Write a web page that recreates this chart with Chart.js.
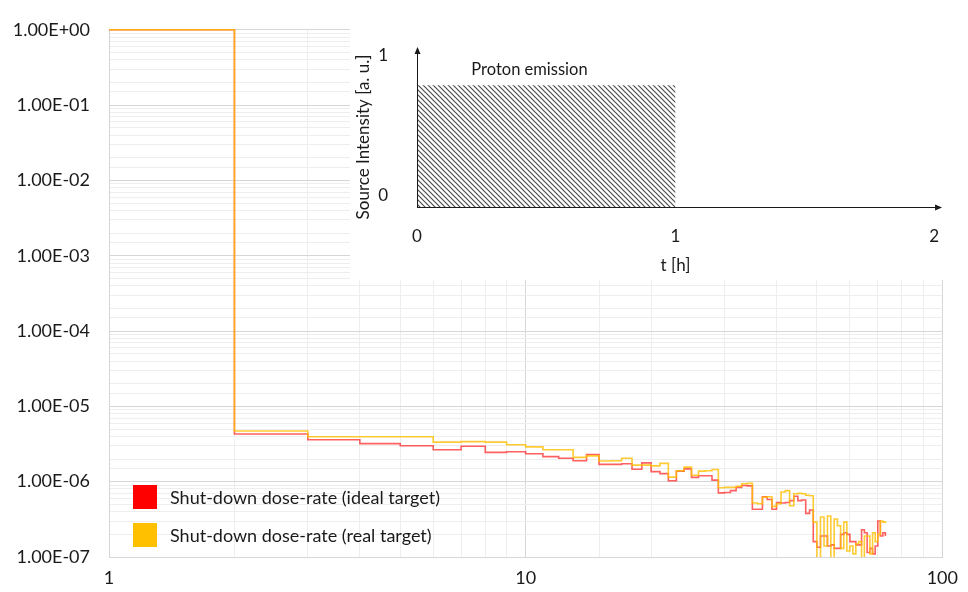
<!DOCTYPE html>
<html lang="en">
<head>
<meta charset="UTF-8">
<title>Shut-down dose-rate</title>
<script src="https://cdn.jsdelivr.net/npm/chart.js"></script>
<style>
  body { margin: 0; background: #fff; }
  #wrap { position: relative; width: 968px; height: 592px; font-family: Lato, "Open Sans", sans-serif; color: #1a1a1a; }
  #inset { position: absolute; left: 350px; top: 27px; }
  .key { position: absolute; left: 133px; width: 24px; height: 24px; }
  .keyText { position: absolute; left: 170px; font-size: 18px; line-height: 22px; }
</style>
</head>
<body>
<div id="wrap">
  <canvas id="main" width="968" height="592"></canvas>
  <canvas id="inset" width="600" height="253"></canvas>
  <div class="key" style="top:485px;background:#ff0000"></div>
  <div class="keyText" style="top:486px">Shut-down dose-rate (ideal target)</div>
  <div class="key" style="top:523px;background:#ffc000"></div>
  <div class="keyText" style="top:524px">Shut-down dose-rate (real target)</div>
</div>
<script>
// time after start [h], one value per hour bin
const hours = [
  1, 2, 3, 4, 5, 6, 7, 8, 9, 10,
  11, 12, 13, 14, 15, 16, 17, 18, 19, 20,
  21, 22, 23, 24, 25, 26, 27, 28, 29, 30,
  31, 32, 33, 34, 35, 36, 37, 38, 39, 40,
  41, 42, 43, 44, 45, 46, 47, 48, 49, 50,
  51, 52, 53, 54, 55, 56, 57, 58, 59, 60,
  61, 62, 63, 64, 65, 66, 67, 68, 69, 70,
  71, 72, 73
];
const idealTarget = [
  1, 4.3e-6, 3.6e-6, 3.2e-6, 3.0e-6, 2.65e-6, 2.95e-6, 2.45e-6, 2.5e-6, 2.35e-6,
  2.15e-6, 2.05e-6, 1.9e-6, 2.3e-6, 1.7e-6, 1.7e-6, 1.73e-6, 1.46e-6, 1.78e-6, 1.36e-6,
  1.28e-6, 1.03e-6, 1.38e-6, 1.48e-6, 1.14e-6, 1.2e-6, 1.2e-6, 1.05e-6, 7.1e-7, 7.2e-7,
  7.6e-7, 8.4e-7, 8.9e-7, 8.8e-7, 4.3e-7, 4.3e-7, 6.3e-7, 5.8e-7, 4.3e-7, 5.3e-7,
  5.2e-7, 5.3e-7, 5.6e-7, 6.4e-7, 5.6e-7, 5.7e-7, 3.8e-7, 4.2e-7, 1.6e-7, 1.35e-7,
  1.9e-7, 1.9e-7, 1.4e-7, 1.45e-7, 1.3e-7, 1.3e-7, 2.0e-7, 2.1e-7, 2.0e-7, 1.6e-7,
  1.6e-7, 1.45e-7, 1.45e-7, 2.3e-7, 2.1e-7, 1.15e-7, 1.3e-7, 1.1e-7, 1.4e-7, 3.0e-7,
  1.9e-7, 2.1e-7, 1.9e-7
];
const realTarget = [
  1, 4.7e-6, 3.95e-6, 3.95e-6, 3.95e-6, 3.35e-6, 3.4e-6, 3.35e-6, 3.1e-6, 2.9e-6,
  2.65e-6, 2.65e-6, 2.1e-6, 2.2e-6, 1.88e-6, 1.9e-6, 2.05e-6, 1.66e-6, 1.66e-6, 1.62e-6,
  1.75e-6, 1.15e-6, 1.4e-6, 1.56e-6, 1.22e-6, 1.38e-6, 1.4e-6, 1.45e-6, 8.3e-7, 8.4e-7,
  8.4e-7, 8.7e-7, 9.4e-7, 9.5e-7, 5.2e-7, 5.1e-7, 6.2e-7, 6.3e-7, 4.7e-7, 5.1e-7,
  7.3e-7, 7.6e-7, 4.8e-7, 6.9e-7, 7.0e-7, 6.9e-7, 6.6e-7, 6.5e-7, 2.9e-7, 9e-8,
  3.4e-7, 1.4e-7, 3.5e-7, 9e-8, 3.2e-7, 2.6e-7, 1.3e-7, 2.9e-7, 1.2e-7, 1.4e-7,
  1.1e-7, 1.5e-7, 1.6e-7, 9e-8, 1.9e-7, 1.9e-7, 1.1e-7, 2.1e-7, 1.6e-7, 2.0e-7,
  3.0e-7, 2.9e-7, 3.0e-7
];
const xTickLabels = [1, 10, 100];

// inset: proton source on for the first hour
const emissionTimes = [0, 1];
const emissionLevel = [0.87, 0.87];

const isDecade = v => Math.abs(Math.log10(v) - Math.round(Math.log10(v))) < 1e-6;
const sci = v => {
  const e = Math.round(Math.log10(v));
  return '1.00E' + (e < 0 ? '-' : '+') + String(Math.abs(e)).padStart(2, '0');
};
const gridColor = ctx => (ctx.tick && isDecade(ctx.tick.value)) ? '#d6d6d6' : '#eeeeee';
const fam = 'Lato, "Open Sans", sans-serif';
const font18 = { family: fam, size: 18 };

new Chart(document.getElementById('main'), {
  type: 'line',
  data: {
    datasets: [
      {
        label: 'Shut-down dose-rate (ideal target)',
        data: hours.map((h, i) => ({ x: h, y: idealTarget[i] })),
        borderColor: 'rgba(255, 30, 30, 0.7)',
        borderWidth: 1.6,
        stepped: 'before',
        pointRadius: 0,
        order: 1,
        clip: { left: 0, top: 3, right: 0, bottom: 0 }
      },
      {
        label: 'Shut-down dose-rate (real target)',
        data: hours.map((h, i) => ({ x: h, y: realTarget[i] })),
        borderColor: 'rgba(255, 190, 0, 0.8)',
        borderWidth: 1.6,
        stepped: 'before',
        pointRadius: 0,
        order: 0,
        clip: { left: 0, top: 3, right: 0, bottom: 0 }
      }
    ]
  },
  options: {
    responsive: false,
    animation: false,
    layout: { padding: { top: 23, right: 17, left: 0, bottom: 0 } },
    plugins: { legend: { display: false }, tooltip: { enabled: false } },
    scales: {
      x: {
        type: 'logarithmic',
        min: 1,
        max: 100,
        afterFit: s => { s.height = 35; },
        grid: { color: gridColor, drawTicks: false },
        border: { color: '#d6d6d6' },
        ticks: {
          autoSkip: false,
          maxRotation: 0,
          padding: 10,
          color: '#1a1a1a',
          font: font18,
          callback: v => xTickLabels.includes(v) ? String(v) : ''
        }
      },
      y: {
        type: 'logarithmic',
        min: 1e-7,
        max: 1,
        afterFit: s => { s.width = 109; },
        grid: { color: gridColor, drawTicks: false },
        border: { color: '#d6d6d6' },
        ticks: {
          autoSkip: false,
          padding: 19,
          color: '#1a1a1a',
          font: font18,
          callback: v => isDecade(v) ? sci(v) : ''
        }
      }
    }
  }
});

function hatchPattern() {
  const c = document.createElement('canvas');
  c.width = c.height = 5;
  const g = c.getContext('2d');
  g.strokeStyle = '#4d4d4d';
  g.lineWidth = 1.2;
  g.beginPath();
  g.moveTo(-1, -1); g.lineTo(6, 6);
  g.moveTo(-1, 4); g.lineTo(1, 6);
  g.moveTo(4, -1); g.lineTo(6, 1);
  g.stroke();
  return g.createPattern(c, 'repeat');
}

const insetDecor = {
  id: 'insetDecor',
  beforeDraw(chart) {
    const g = chart.ctx;
    g.save();
    g.fillStyle = '#fff';
    g.fillRect(0, 0, chart.width, chart.height);
    g.restore();
  },
  afterDraw(chart) {
    const g = chart.ctx;
    const a = chart.chartArea;
    g.save();
    g.strokeStyle = '#1a1a1a';
    g.fillStyle = '#1a1a1a';
    g.lineWidth = 1;
    // y axis with arrow
    g.beginPath();
    g.moveTo(a.left + 0.5, a.bottom);
    g.lineTo(a.left + 0.5, a.top - 15);
    g.stroke();
    g.beginPath();
    g.moveTo(a.left + 0.5, a.top - 20);
    g.lineTo(a.left - 2.5, a.top - 13);
    g.lineTo(a.left + 3.5, a.top - 13);
    g.fill();
    // x axis with arrow
    g.beginPath();
    g.moveTo(a.left, a.bottom + 0.5);
    g.lineTo(a.right + 3, a.bottom + 0.5);
    g.stroke();
    g.beginPath();
    g.moveTo(a.right + 8, a.bottom + 0.5);
    g.lineTo(a.right + 1, a.bottom - 2.5);
    g.lineTo(a.right + 1, a.bottom + 3.5);
    g.fill();
    // label
    g.font = '16.5px ' + fam;
    g.textAlign = 'center';
    g.textBaseline = 'middle';
    g.fillText('Proton emission', chart.scales.x.getPixelForValue(0.435), chart.scales.y.getPixelForValue(0.98));
    g.restore();
  }
};

const font17 = { family: fam, size: 17 };
new Chart(document.getElementById('inset'), {
  type: 'line',
  data: {
    datasets: [{
      data: emissionTimes.map((t, i) => ({ x: t, y: emissionLevel[i] })),
      borderWidth: 0,
      pointRadius: 0,
      fill: 'origin',
      backgroundColor: hatchPattern()
    }]
  },
  plugins: [insetDecor],
  options: {
    responsive: false,
    animation: false,
    layout: { padding: { top: 40, right: 12, left: 0, bottom: 0 } },
    plugins: { legend: { display: false }, tooltip: { enabled: false } },
    scales: {
      x: {
        type: 'linear',
        min: 0,
        max: 2,
        afterFit: s => { s.height = 73; },
        grid: { display: false },
        border: { display: false },
        ticks: { stepSize: 1, padding: 11, color: '#1a1a1a', font: font17 },
        title: { display: true, text: 't [h]', color: '#1a1a1a', font: font17, padding: { top: 6, bottom: 4 } }
      },
      y: {
        min: 0,
        max: 1,
        afterFit: s => { s.width = 67; },
        grid: { display: false },
        border: { display: false },
        ticks: { stepSize: 1, padding: 21, labelOffset: -11, color: '#1a1a1a', font: font17 },
        title: { display: true, text: 'Source Intensity [a. u.]', color: '#1a1a1a', font: font17, padding: { top: 3, bottom: 0 } }
      }
    }
  }
});
</script>
</body>
</html>
